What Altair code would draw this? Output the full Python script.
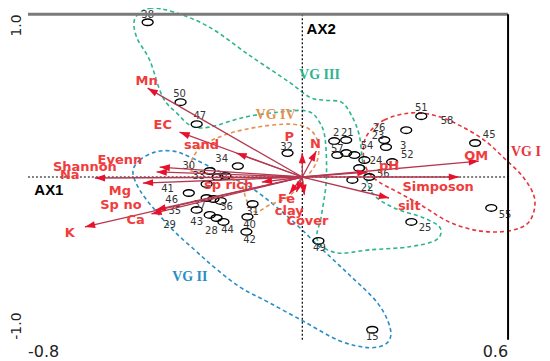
import math
import altair as alt
import pandas as pd

# ---------------- axes ----------------
XMIN, XMAX = -0.8, 0.6
YMIN, YMAX = -1.0, 1.0
W, H = 481, 326
x_ticks = [-0.8, -0.6, -0.4, -0.2, 0.0, 0.2, 0.4, 0.6]
y_ticks = [-1.0, -0.5, 0.0, 0.5, 1.0]
x_label_text = ["-0.8", "0.6"]
x_label_value = [-0.8, 0.6]
y_label_text = ["1.0", "-1.0"]
y_label_value = [1.0, -1.0]

# ---------------- environmental vectors ----------------
env_names = ["Mn", "EC", "sand", "Evenn", "Shannon", "Na", "Mg", "Sp no", "Ca", "K",
             "sp rich", "P", "N", "Fe", "clay", "Cover", "pH", "OM", "Simposon", "silt"]
env_x = [-0.451, -0.358, -0.192, -0.416, -0.425, -0.605, -0.465, -0.428, -0.440, -0.634,
         -0.118, 0.000, 0.041, -0.038, -0.017, 0.006, 0.190, 0.515, 0.457, 0.253]
env_y = [0.546, 0.276, 0.147, 0.061, 0.031, -0.006, -0.037, -0.202, -0.227, -0.307,
         -0.031, 0.147, 0.160, -0.104, -0.092, -0.110, 0.030, 0.098, 0.000, -0.129]
env_lab_x = [-0.454, -0.407, -0.294, -0.532, -0.634, -0.678, -0.532, -0.529, -0.486, -0.678,
             -0.215, -0.038, 0.038, -0.046, -0.038, 0.015, 0.253, 0.507, 0.396, 0.312]
env_lab_y = [0.589, 0.319, 0.196, 0.104, 0.061, 0.012, -0.086, -0.172, -0.264, -0.344,
             -0.049, 0.245, 0.202, -0.135, -0.209, -0.270, 0.067, 0.129, -0.061, -0.178]

# ---------------- sample scores ----------------
site_x = [-0.451, -0.355, -0.308, -0.188, -0.270, -0.247, -0.279, -0.224, -0.331, -0.279,
          -0.259, -0.238, -0.308, -0.270, -0.250, -0.230, -0.145, -0.160, -0.163, 0.047,
          0.204, 0.318, 0.551, 0.504, 0.347, 0.303, 0.239, 0.244, 0.262, 0.195,
          0.146, 0.093, 0.128, 0.102, 0.128, 0.152, 0.166, 0.181, -0.043]
site_y = [0.951, 0.460, 0.325, 0.067, 0.037, 0.000, -0.043, 0.006, -0.098, -0.129,
          -0.135, -0.147, -0.202, -0.233, -0.252, -0.276, -0.166, -0.245, -0.337, -0.393,
          -0.939, -0.276, -0.190, 0.209, 0.374, 0.288, 0.227, 0.184, 0.092, 0.000,
          -0.018, 0.221, 0.227, 0.135, 0.147, 0.135, 0.055, 0.104, 0.147]

site_names = ["38", "50", "47", "30", "33", "34", "41", "46", "37", "36", "35", "29", "43",
              "28", "44", "31", "40", "42", "49", "15", "25", "55", "45", "51", "58", "26",
              "23", "54", "3", "52", "24", "56", "22", "2", "21", "57", "32"]
site_lab_x = [-0.451, -0.358, -0.299, -0.331, -0.302, -0.235, -0.393, -0.381, -0.299, -0.221,
              -0.372, -0.387, -0.308, -0.265, -0.218, -0.145, -0.154, -0.154, 0.050, 0.204,
              0.358, 0.591, 0.545, 0.347, 0.422, 0.224, 0.221, 0.189, 0.294, 0.306,
              0.215, 0.236, 0.189, 0.099, 0.131, 0.102, -0.046]
site_lab_y = [0.995, 0.509, 0.374, 0.067, 0.006, 0.110, -0.074, -0.141, -0.172, -0.184,
              -0.209, -0.294, -0.276, -0.331, -0.325, -0.215, -0.294, -0.387, -0.436, -0.982,
              -0.313, -0.233, 0.258, 0.423, 0.344, 0.301, 0.252, 0.190, 0.190, 0.135,
              0.098, 0.018, -0.067, 0.270, 0.270, 0.172, 0.184]

# ---------------- vegetation group envelopes ----------------
vg1_x = [0.189, 0.239, 0.312, 0.384, 0.457, 0.530, 0.588, 0.646, 0.678, 0.661, 0.603, 0.515,
         0.428, 0.355, 0.283, 0.224, 0.189, 0.178]
vg1_y = [0.258, 0.350, 0.393, 0.380, 0.319, 0.227, 0.117, -0.006, -0.141, -0.276, -0.331, -0.331,
         -0.276, -0.184, -0.098, -0.031, 0.043, 0.153]
vg2_x = [-0.494, -0.474, -0.430, -0.381, -0.334, -0.227, -0.139, -0.038, 0.050, 0.137, 0.219,
         0.256, 0.248, 0.195, 0.108, 0.006, -0.096, -0.183, -0.265, -0.314, -0.372, -0.430, -0.474]
vg2_y = [0.031, 0.104, 0.153, 0.160, 0.129, 0.018, -0.080, -0.252, -0.429, -0.601, -0.773,
         -0.926, -1.018, -1.049, -1.006, -0.890, -0.773, -0.675, -0.540, -0.448, -0.337, -0.202, -0.080]
vg3_x = [-0.488, -0.445, -0.372, -0.270, -0.154, -0.038, 0.021, 0.064, 0.114, 0.143, 0.166,
         0.178, 0.204, 0.268, 0.355, 0.402, 0.390, 0.312, 0.195, 0.099, 0.044, 0.056, 0.070,
         0.067, 0.050, 0.015, -0.067, -0.168, -0.270, -0.323, -0.366, -0.407, -0.445, -0.483]
vg3_y = [0.975, 1.037, 1.012, 0.920, 0.748, 0.583, 0.491, 0.472, 0.460, 0.380, 0.258,
         0.074, -0.098, -0.190, -0.252, -0.313, -0.387, -0.429, -0.448, -0.466, -0.387, -0.233, -0.018,
         0.227, 0.337, 0.405, 0.399, 0.368, 0.307, 0.313, 0.393, 0.491, 0.718, 0.859]
vg4_x = [-0.329, -0.299, -0.227, -0.131, -0.038, 0.015, 0.044, 0.044, 0.006, -0.043, -0.096,
         -0.137, -0.163, -0.183, -0.256, -0.314]
vg4_y = [0.061, 0.178, 0.258, 0.307, 0.325, 0.301, 0.227, 0.104, -0.018, -0.123, -0.172,
         -0.215, -0.141, -0.031, 0.018, 0.031]
group_names = ["VG I", "VG II", "VG III", "VG IV"]
group_lab_x = [0.652, -0.328, 0.050, -0.078]
group_lab_y = [0.153, -0.613, 0.626, 0.380]
group_line_colors = ["#e8343c", "#2a8ec6", "#2db592", "#e39150"]
group_text_colors = ["#e32a2a", "#1f7fc0", "#1aa57e", "#d7812f"]

# ---------------- build tables ----------------
xs = alt.Scale(domain=[XMIN, XMAX], nice=False, zero=False)
ys = alt.Scale(domain=[YMIN, YMAX], nice=False, zero=False)


def X(f, **kw):
    return alt.X(f, type="quantitative", scale=xs, axis=None, **kw)


def Y(f, **kw):
    return alt.Y(f, type="quantitative", scale=ys, axis=None, **kw)


px_x = W / (XMAX - XMIN)
px_y = H / (YMAX - YMIN)
env = pd.DataFrame({"name": env_names, "x": env_x, "y": env_y,
                    "lx": env_lab_x, "ly": env_lab_y})
env["x0"] = 0.0
env["y0"] = 0.0
env["angle"] = [(math.degrees(math.atan2(a * px_x, b * px_y))) % 360 for a, b in zip(env_x, env_y)]

sites = pd.DataFrame({"x": site_x, "y": site_y})
site_labels = pd.DataFrame({"name": site_names, "x": site_lab_x, "y": site_lab_y})

rows = []
for g, gx, gy in zip(group_names, [vg1_x, vg2_x, vg3_x, vg4_x], [vg1_y, vg2_y, vg3_y, vg4_y]):
    for i, (a, b) in enumerate(zip(gx, gy)):
        rows.append({"group": g, "x": a, "y": b, "o": i})
groups = pd.DataFrame(rows)
group_labels = pd.DataFrame({"group": group_names, "x": group_lab_x, "y": group_lab_y})

# ---------------- layers ----------------
base = alt.Chart(pd.DataFrame({"x": x_ticks[:1], "y": [0.0]})).mark_point(opacity=0).encode(
    x=alt.X("x:Q", scale=xs, axis=alt.Axis(
        values=x_ticks, title=None, grid=False, labels=False,
        tickSize=4, tickColor="black", tickWidth=1.5,
        domainColor="black", domainWidth=2)),
    y=alt.Y("y:Q", scale=ys, axis=alt.Axis(
        values=y_ticks, title=None, grid=False, labels=False,
        tickSize=4, tickColor="black", tickWidth=1.5,
        domainColor="black", domainWidth=2)),
)

frame_df = pd.DataFrame({"x": [XMIN], "x2": [XMAX], "y": [YMAX], "xr": [XMAX], "y1": [YMIN], "y2": [YMAX]})
top_border = alt.Chart(frame_df).mark_rule(color="#7a7a7a", strokeWidth=3).encode(
    x=X("x"), x2="x2", y=Y("y"))
right_border = alt.Chart(frame_df).mark_rule(color="black", strokeWidth=2).encode(
    x=X("xr"), y=Y("y1"), y2="y2")

zero_df = pd.DataFrame({"x0": [0.0], "y0": [0.0], "xa": [XMIN], "xb": [XMAX], "ya": [YMIN], "yb": [YMAX]})
zero_v = alt.Chart(zero_df).mark_rule(color="black", strokeWidth=1.2, strokeDash=[2, 2]).encode(
    x=X("x0"), y=Y("ya"), y2="yb")
zero_h = alt.Chart(zero_df).mark_rule(color="black", strokeWidth=1.2, strokeDash=[2, 2]).encode(
    x=X("xa"), x2="xb", y=Y("y0"))

outlines = alt.Chart(groups).mark_line(
    interpolate="cardinal-closed", strokeDash=[4, 3], strokeWidth=1.6).encode(
    x=X("x"), y=Y("y"), order="o:Q",
    color=alt.Color("group:N", scale=alt.Scale(domain=group_names, range=group_line_colors), legend=None),
    detail="group:N")

ellipse = "M-1,0A1,0.6,0,1,1,1,0A1,0.6,0,1,1,-1,0Z"
circles = alt.Chart(sites).mark_point(
    shape=ellipse, filled=False, size=120, color="black", strokeWidth=1.4, opacity=1).encode(
    x=X("x"), y=Y("y"))

site_text = alt.Chart(site_labels).mark_text(
    font="DejaVu Sans", fontSize=10, color="#333", baseline="middle").encode(
    x=X("x"), y=Y("y"), text="name:N")

arrow_lines = alt.Chart(env).mark_rule(color="#b5374f", strokeWidth=1.3).encode(
    x=X("x0"), y=Y("y0"), x2="x", y2="y")
head = "M0,0L0.34,1L-0.34,1Z"
arrow_heads = alt.Chart(env).mark_point(
    shape=head, filled=True, size=420, color="#e8102a", opacity=1, strokeWidth=0).encode(
    x=X("x"), y=Y("y"), angle=alt.Angle("angle:Q", scale=None))

env_text = alt.Chart(env).mark_text(
    font="DejaVu Sans", fontSize=13, fontWeight="bold", color="#f03c3c", baseline="middle").encode(
    x=X("lx"), y=Y("ly"), text="name:N")

group_text = alt.Chart(group_labels).mark_text(
    font="Liberation Serif", fontSize=14, fontWeight="bold", baseline="middle").encode(
    x=X("x"), y=Y("y"), text="group:N",
    color=alt.Color("group:N", scale=alt.Scale(domain=group_names, range=group_text_colors), legend=None))

axis_names = pd.DataFrame({"t": ["AX1", "AX2"], "x": [-0.739, 0.055], "y": [-0.080, 0.908]})
axis_text = alt.Chart(axis_names).mark_text(
    font="Liberation Sans", fontSize=15, fontWeight="bold", color="black", baseline="middle").encode(
    x=X("x"), y=Y("y"), text="t:N")

xlab = pd.DataFrame({"t": x_label_text, "v": x_label_value})
xlab_left = alt.Chart(xlab).transform_filter("datum.v < 0").mark_text(
    font="DejaVu Sans", fontSize=16, color="#222", align="left", baseline="middle").encode(
    x=X("v"), y=alt.value(H + 12), text="t:N")
xlab_right = alt.Chart(xlab).transform_filter("datum.v > 0").mark_text(
    font="DejaVu Sans", fontSize=16, color="#222", align="right", baseline="middle").encode(
    x=X("v"), y=alt.value(H + 12), text="t:N")

ylab = pd.DataFrame({"t": y_label_text, "v": y_label_value})
ylab_top = alt.Chart(ylab).transform_filter("datum.v > 0").mark_text(
    font="DejaVu Sans", fontSize=14, color="#222", angle=270, align="right", baseline="middle").encode(
    x=alt.value(-11), y=Y("v"), text="t:N")
ylab_bot = alt.Chart(ylab).transform_filter("datum.v < 0").mark_text(
    font="DejaVu Sans", fontSize=14, color="#222", angle=270, align="left", baseline="middle").encode(
    x=alt.value(-11), y=Y("v"), text="t:N")

chart = alt.layer(
    base, outlines, zero_v, zero_h, circles, site_text, arrow_lines, arrow_heads,
    env_text, group_text, axis_text, xlab_left, xlab_right, ylab_top, ylab_bot,
    top_border, right_border
).properties(
    width=W, height=H,
    padding={"left": 20, "top": 6, "right": 34, "bottom": 20},
    autosize=alt.AutoSizeParams(type="none"),
    background="white",
).configure_view(stroke=None)

chart.save("out.html", embed_options={"renderer": "svg", "actions": False})
